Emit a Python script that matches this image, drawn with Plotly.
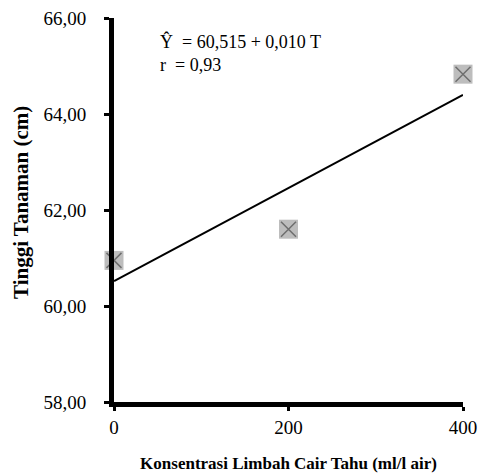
import numpy as np
import plotly.graph_objects as go

konsentrasi = [0, 200, 400]
tinggi = [60.95, 61.60, 64.83]
y_ticks = [58, 60, 62, 64, 66]
y_tick_labels = ["58,00", "60,00", "62,00", "64,00", "66,00"]
x_ticks = [0, 200, 400]
x_tick_labels = ["0", "200", "400"]

slope, intercept = np.polyfit(konsentrasi, tinggi, 1)
trend_x = [konsentrasi[0], konsentrasi[-1]]
trend_y = [intercept + slope * x for x in trend_x]

FONT = "Liberation Serif"

fig = go.Figure()
fig.add_trace(go.Scatter(x=trend_x, y=trend_y, mode="lines",
                         line=dict(color="black", width=2), showlegend=False))
fig.add_trace(go.Scatter(x=konsentrasi, y=tinggi, mode="markers",
                         marker=dict(symbol="square", size=19, color="#bdbdbd",
                                     line=dict(width=0)),
                         showlegend=False, cliponaxis=False))
fig.add_trace(go.Scatter(x=konsentrasi, y=tinggi, mode="markers",
                         marker=dict(symbol="x-thin", size=15,
                                     line=dict(width=1.5, color="#6e6e6e")),
                         showlegend=False, cliponaxis=False))

fig.add_annotation(x=0, y=1, xref="paper", yref="paper", xanchor="left", yanchor="top",
                   xshift=44, yshift=-11, align="left", showarrow=False,
                   text="Ŷ  = 60,515 + 0,010 T<br>r  = 0,93",
                   font=dict(family=FONT, size=18, color="black"))

# y-axis title as a rotated annotation
fig.add_annotation(x=0, y=0.5, xref="paper", yref="paper", xanchor="center", yanchor="middle",
                   xshift=-93, yshift=7, textangle=-90, showarrow=False,
                   text="<b>Tinggi Tanaman (cm)</b>",
                   font=dict(family=FONT, size=21, color="black"))

fig.update_layout(
    width=480, height=468,
    margin=dict(l=106, r=25, t=10, b=74),
    plot_bgcolor="white", paper_bgcolor="white",
    font=dict(family=FONT, size=19, color="black"),
    xaxis=dict(range=[0, 400], tickvals=x_ticks, ticktext=x_tick_labels,
               automargin=False, ticklabeloverflow="allow",
               showgrid=False, zeroline=False, showline=True, linecolor="black",
               linewidth=5, ticks="outside", ticklen=4, tickwidth=3, tickcolor="black",
               ticklabelstandoff=0,
               title=dict(text="<b>Konsentrasi Limbah Cair Tahu (ml/l air)</b>",
                          font=dict(family=FONT, size=17), standoff=22),
               tickfont=dict(family=FONT, size=19)),
    yaxis=dict(range=[58, 66], tickvals=y_ticks, ticktext=y_tick_labels,
               automargin=False, ticklabeloverflow="allow",
               showgrid=False, zeroline=False, showline=True, linecolor="black",
               linewidth=5, ticks="outside", ticklen=5, tickwidth=3, tickcolor="black",
               ticklabelstandoff=14,
               tickfont=dict(family=FONT, size=19)),
)

fig.write_html("out.html")
